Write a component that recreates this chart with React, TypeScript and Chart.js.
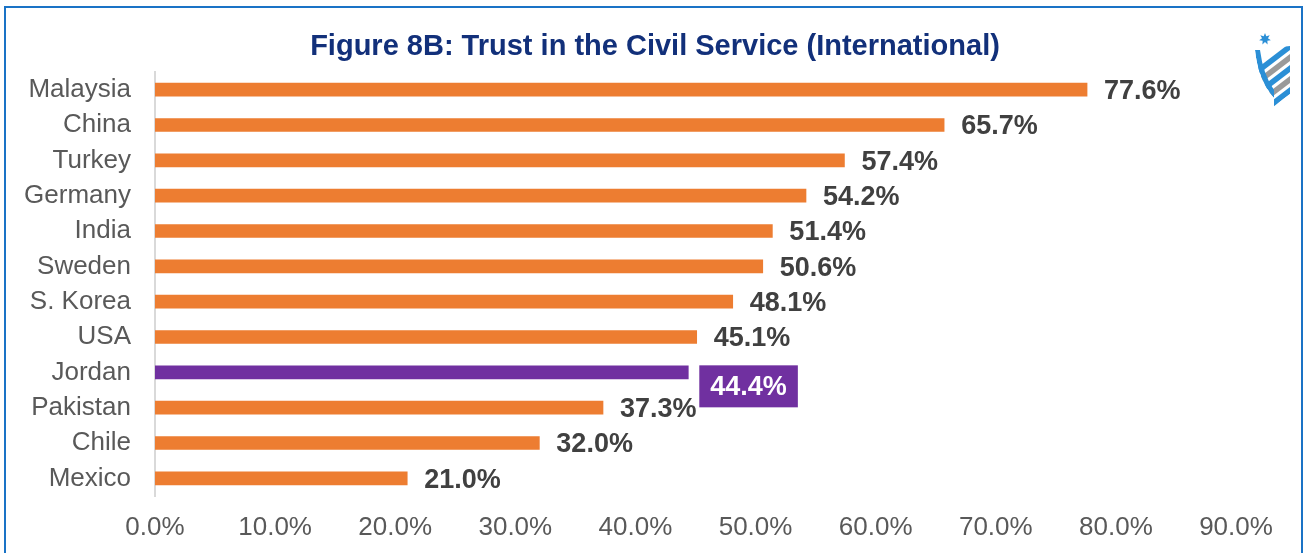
import React, { useEffect, useRef } from "react";
import { Chart, registerables } from "chart.js";

Chart.register(...registerables);

const TITLE = "Figure 8B: Trust in the Civil Service (International)";
const countries = ["Malaysia", "China", "Turkey", "Germany", "India", "Sweden", "S. Korea", "USA", "Jordan", "Pakistan", "Chile", "Mexico"];
const trust = [77.6, 65.7, 57.4, 54.2, 51.4, 50.6, 48.1, 45.1, 44.4, 37.3, 32.0, 21.0];
const highlight = "Jordan";
const xTicks = [0, 10, 20, 30, 40, 50, 60, 70, 80, 90];

const ORANGE = "#ED7D31";
const PURPLE = "#7030A0";
const FONT = "'Liberation Sans', Arial, sans-serif";

const decorPlugin = {
  id: "decor",
  beforeDraw(chart: any) {
    const ctx = chart.ctx;
    ctx.save();
    ctx.fillStyle = "#FFFFFF";
    ctx.fillRect(0, 0, chart.width, chart.height);
    ctx.strokeStyle = "#1A73C6";
    ctx.lineWidth = 2;
    ctx.beginPath();
    ctx.moveTo(5, chart.height + 5);
    ctx.lineTo(5, 7);
    ctx.lineTo(1302, 7);
    ctx.lineTo(1302, chart.height + 5);
    ctx.stroke();
    ctx.restore();
  },
  afterDraw(chart: any) {
    const ctx = chart.ctx;
    ctx.save();
    // title
    ctx.fillStyle = "#12307A";
    ctx.font = `bold 29px ${FONT}`;
    ctx.textAlign = "center";
    ctx.textBaseline = "middle";
    ctx.fillText(TITLE, 655, 47);

    // data labels
    const meta = chart.getDatasetMeta(0);
    meta.data.forEach((bar: any, i: number) => {
      const label = trust[i].toFixed(1) + "%";
      ctx.font = `bold 27px ${FONT}`;
      ctx.textAlign = "left";
      ctx.textBaseline = "middle";
      if (countries[i] === highlight) {
        const w = ctx.measureText(label).width;
        const x0 = bar.x + 11;
        const yc = bar.y + 14;
        ctx.fillStyle = PURPLE;
        ctx.fillRect(x0, yc - 21, w + 22, 42);
        ctx.fillStyle = "#FFFFFF";
        ctx.fillText(label, x0 + 11, yc + 1);
      } else {
        ctx.fillStyle = "#404040";
        ctx.fillText(label, bar.x + 17, bar.y + 2);
      }
    });

    // logo (approximation)
    const lx = 1254, ly = 32;
    ctx.fillStyle = "#2B8FD6";
    ctx.beginPath();
    for (let k = 0; k < 14; k++) {
      const a = (Math.PI * 2 * k) / 14 - Math.PI / 2;
      const r = k % 2 === 0 ? 6 : 3;
      const px = lx + 11 + r * Math.cos(a);
      const py = ly + 7 + r * Math.sin(a);
      if (k === 0) ctx.moveTo(px, py); else ctx.lineTo(px, py);
    }
    ctx.closePath();
    ctx.fill();
    // shield clip
    ctx.save();
    ctx.beginPath();
    ctx.moveTo(lx + 1, ly + 18);
    ctx.lineTo(lx + 36, ly + 14);
    ctx.lineTo(lx + 36, ly + 62);
    ctx.quadraticCurveTo(lx + 22, ly + 72, lx + 20, ly + 76);
    ctx.lineTo(lx + 20, ly + 66);
    ctx.quadraticCurveTo(lx + 4, ly + 48, lx + 1, ly + 18);
    ctx.closePath();
    ctx.clip();
    const cols = ["#2B8FD6", "#9A9A9A", "#2B8FD6", "#9A9A9A", "#2B8FD6", "#9A9A9A"];
    for (let k = 0; k < cols.length; k++) {
      ctx.fillStyle = cols[k];
      const oy = ly + 14 + k * 11;
      ctx.beginPath();
      ctx.moveTo(lx - 2, oy + 26);
      ctx.lineTo(lx + 40, oy - 6);
      ctx.lineTo(lx + 40, oy + 1);
      ctx.lineTo(lx - 2, oy + 33);
      ctx.closePath();
      ctx.fill();
    }
    ctx.fillStyle = "#2B8FD6";
    ctx.beginPath();
    ctx.moveTo(lx + 1, ly + 18);
    ctx.quadraticCurveTo(lx + 4, ly + 48, lx + 20, ly + 66);
    ctx.lineTo(lx + 20, ly + 58);
    ctx.quadraticCurveTo(lx + 9, ly + 42, lx + 6, ly + 18);
    ctx.closePath();
    ctx.fill();
    ctx.restore();
    ctx.restore();
  },
};

export default function App() {
  const ref = useRef<HTMLCanvasElement | null>(null);
  useEffect(() => {
    document.body.style.margin = "0";
    const canvas = ref.current!;
    const chart = new Chart(canvas, {
      type: "bar",
      data: {
        labels: countries,
        datasets: [
          {
            data: trust,
            backgroundColor: countries.map((c) => (c === highlight ? PURPLE : ORANGE)),
            barThickness: 13,
          },
        ],
      },
      options: {
        indexAxis: "y",
        responsive: false,
        animation: false,
        events: [],
        layout: { padding: { left: 0, right: 71, top: 72, bottom: 0 } },
        plugins: { legend: { display: false }, tooltip: { enabled: false }, title: { display: false } },
        scales: {
          x: {
            min: 0,
            max: 90,
            afterFit: (s: any) => { s.height = 57; },
            afterBuildTicks: (s: any) => { s.ticks = xTicks.map((v) => ({ value: v })); },
            grid: { display: false, drawTicks: false },
            border: { display: false },
            ticks: {
              padding: 16,
              color: "#595959",
              font: { family: FONT, size: 26 },
              callback: (v: any) => Number(v).toFixed(1) + "%",
              maxRotation: 0,
              autoSkip: false,
            },
          },
          y: {
            afterFit: (s: any) => { s.width = 155; },
            grid: { display: false, drawTicks: false },
            border: { display: true, color: "#D9D9D9", width: 2 },
            ticks: {
              padding: 24,
              color: "#595959",
              font: { family: FONT, size: 26 },
              autoSkip: false,
            },
          },
        },
      },
      plugins: [decorPlugin],
    });
    return () => chart.destroy();
  }, []);
  return <canvas ref={ref} width={1307} height={553} style={{ display: "block" }} />;
}
